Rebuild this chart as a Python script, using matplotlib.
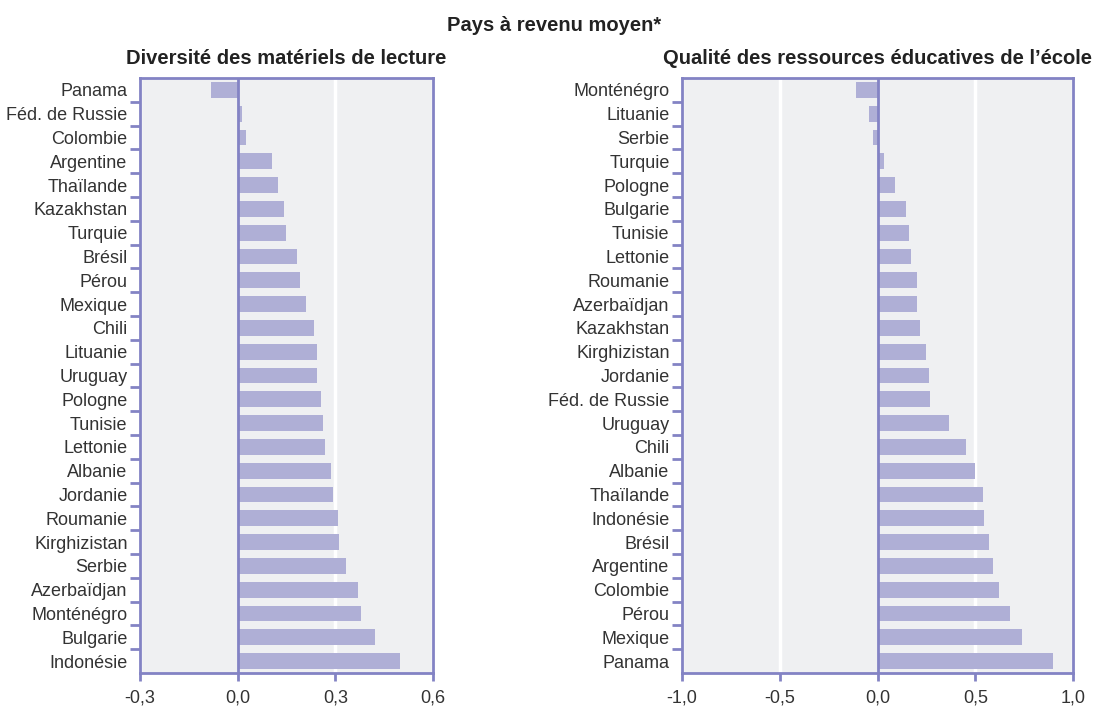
import matplotlib
matplotlib.use('Agg')
import matplotlib.pyplot as plt

plt.rcParams['font.family'] = ['Liberation Sans', 'DejaVu Sans']

# left panel: diversité des matériels de lecture (top -> bottom)
left_countries = ["Panama", "Féd. de Russie", "Colombie", "Argentine", "Thaïlande",
                  "Kazakhstan", "Turquie", "Brésil", "Pérou", "Mexique", "Chili",
                  "Lituanie", "Uruguay", "Pologne", "Tunisie", "Lettonie", "Albanie",
                  "Jordanie", "Roumanie", "Kirghizistan", "Serbie", "Azerbaïdjan",
                  "Monténégro", "Bulgarie", "Indonésie"]
left_values = [-0.083, 0.012, 0.025, 0.104, 0.125, 0.141, 0.150, 0.181, 0.193, 0.211,
               0.233, 0.245, 0.245, 0.257, 0.263, 0.269, 0.288, 0.294, 0.309, 0.312,
               0.333, 0.370, 0.379, 0.422, 0.498]

# right panel: qualité des ressources éducatives de l'école
right_countries = ["Monténégro", "Lituanie", "Serbie", "Turquie", "Pologne", "Bulgarie",
                   "Tunisie", "Lettonie", "Roumanie", "Azerbaïdjan", "Kazakhstan",
                   "Kirghizistan", "Jordanie", "Féd. de Russie", "Uruguay", "Chili",
                   "Albanie", "Thaïlande", "Indonésie", "Brésil", "Argentine",
                   "Colombie", "Pérou", "Mexique", "Panama"]
right_values = [-0.109, -0.043, -0.022, 0.034, 0.090, 0.146, 0.161, 0.172, 0.202, 0.202,
                0.217, 0.248, 0.263, 0.268, 0.365, 0.452, 0.498, 0.539, 0.544, 0.570,
                0.590, 0.620, 0.680, 0.740, 0.898]

left_ticks = [-0.3, 0.0, 0.3, 0.6]
left_ticklabels = ["-0,3", "0,0", "0,3", "0,6"]
right_ticks = [-1.0, -0.5, 0.0, 0.5, 1.0]
right_ticklabels = ["-1,0", "-0,5", "0,0", "0,5", "1,0"]

frame = '#8383c4'
barc = '#afafd6'
bg = '#eff0f2'
txt = '#333333'

fig = plt.figure(figsize=(10.97, 7.11), dpi=100)
W, H = 1097, 711
ax1 = fig.add_axes([140 / W, 1 - 673 / H, (433 - 140) / W, (673 - 78) / H])
ax2 = fig.add_axes([682 / W, 1 - 673 / H, (1073 - 682) / W, (673 - 78) / H])


def draw(ax, cats, vals, ticks, labels, title):
    n = len(cats)
    ys = list(range(n))
    ax.set_facecolor(bg)
    for t in ticks:
        if t != 0:
            ax.axvline(t, color='white', lw=2.5, zorder=1)
    ax.barh(ys, vals, height=0.67, color=barc, zorder=2)
    ax.axvline(0, color=frame, lw=2, zorder=3)
    ax.set_ylim(n - 0.5, -0.5)
    ax.set_xlim(ticks[0], ticks[-1])
    ax.set_yticks(ys)
    ax.set_yticklabels(cats, fontsize=13, color=txt)
    ax.set_yticks([i - 0.5 for i in range(1, n)], minor=True)
    ax.tick_params(axis='y', which='major', length=0, pad=9)
    ax.tick_params(axis='y', which='minor', length=7, width=2, color=frame)
    ax.set_xticks(ticks)
    ax.set_xticklabels(labels, fontsize=13, color=txt)
    ax.tick_params(axis='x', length=6, width=2, color=frame, pad=6)
    for s in ax.spines.values():
        s.set_color(frame)
        s.set_linewidth(2)
    ax.set_title(title, fontsize=14.5, fontweight='bold', color='#222222', pad=10)


draw(ax1, left_countries, left_values, left_ticks, left_ticklabels,
     "Diversité des matériels de lecture")
draw(ax2, right_countries, right_values, right_ticks, right_ticklabels,
     "Qualité des ressources éducatives de l’école")

fig.text(554 / W, 1 - 31 / H, "Pays à revenu moyen*", ha='center', va='baseline',
         fontsize=14.5, fontweight='bold', color='#222222')

plt.savefig('out.png', dpi=100)
